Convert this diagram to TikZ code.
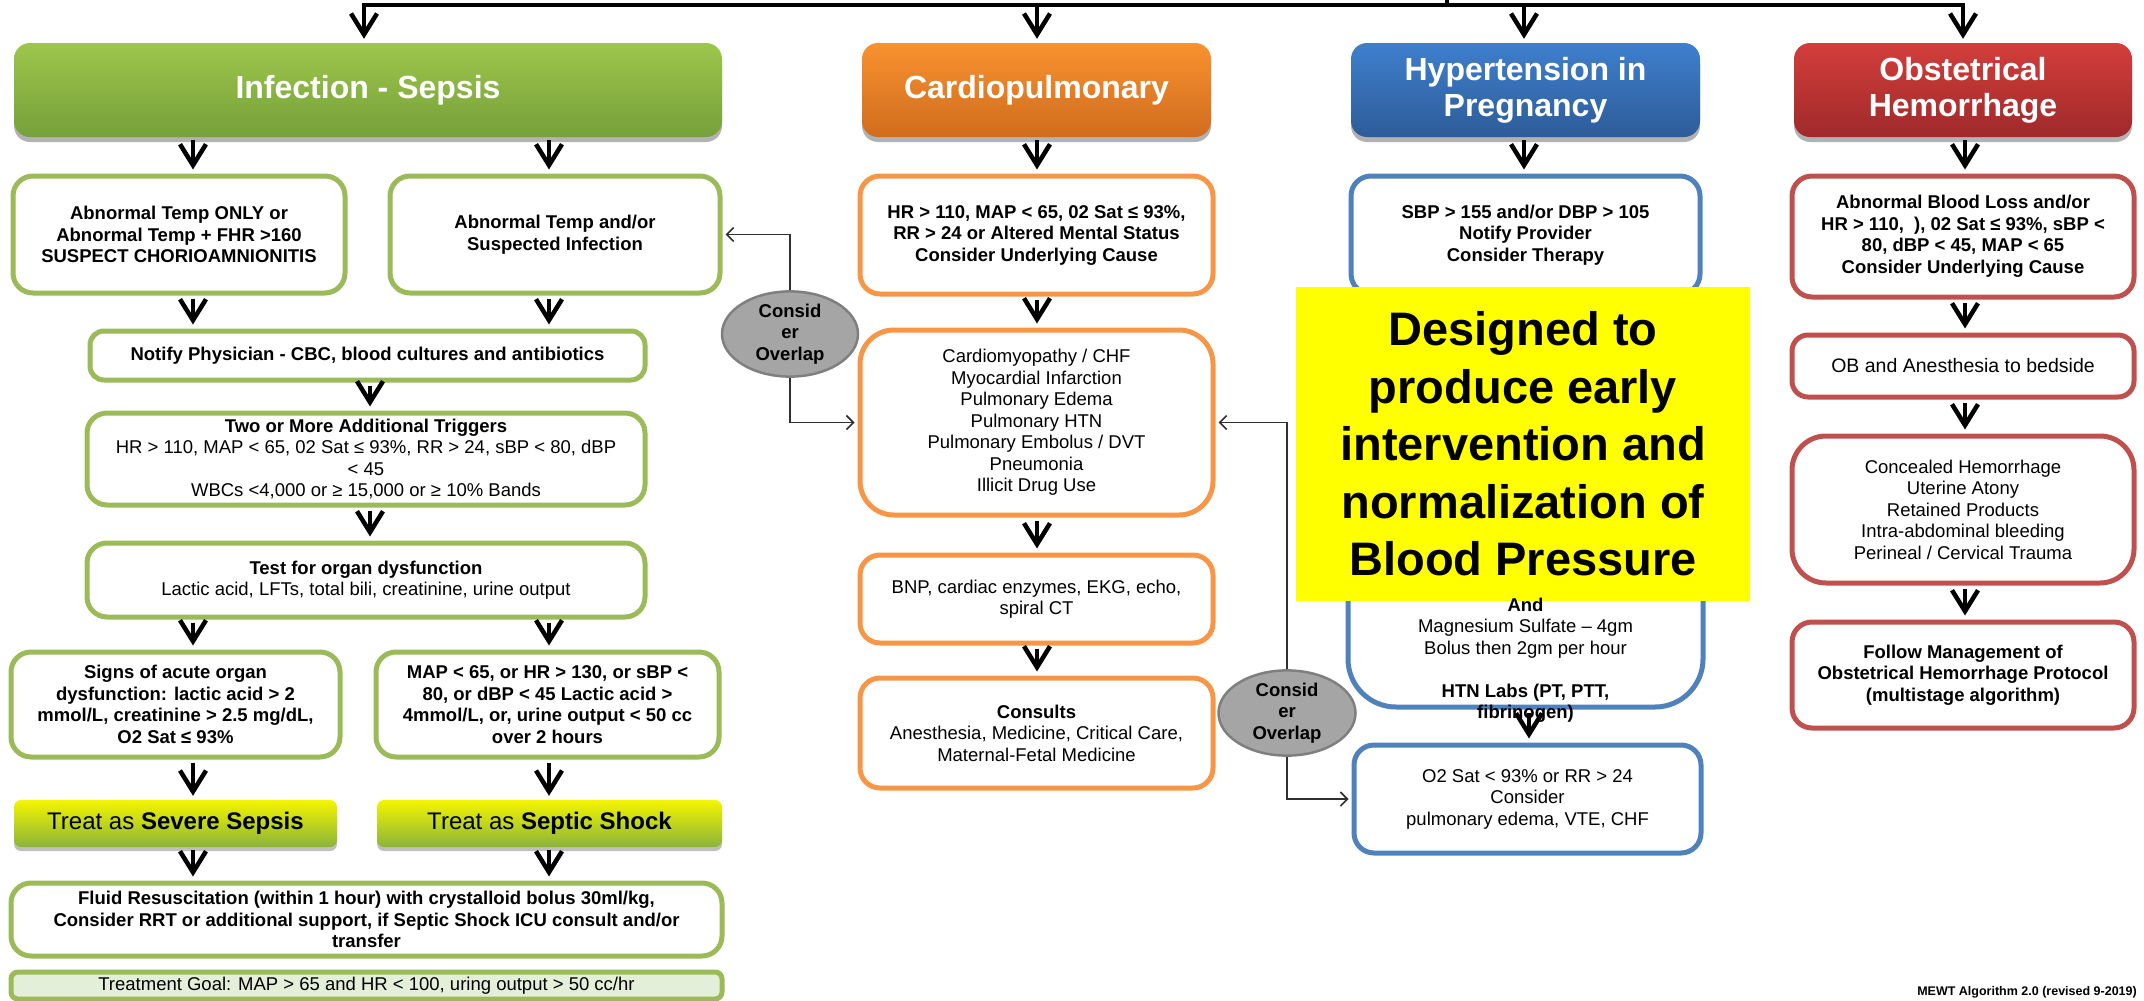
\documentclass[tikz,border=0pt]{standalone}
\usepackage{fontspec}
\setmainfont{Liberation Sans}
\usetikzlibrary{arrows.meta,shadows,shapes.geometric}

\definecolor{grnline}{HTML}{9BBB59}
\definecolor{orgline}{HTML}{F79646}
\definecolor{bluline}{HTML}{4F81BD}
\definecolor{redline}{HTML}{C0504D}
\definecolor{grntop}{HTML}{9DC64B}
\definecolor{grnbot}{HTML}{76A03A}
\definecolor{orgtop}{HTML}{F8922F}
\definecolor{orgbot}{HTML}{D06C1E}
\definecolor{blutop}{HTML}{3F7FCD}
\definecolor{blubot}{HTML}{2D5C99}
\definecolor{redtop}{HTML}{D23E3B}
\definecolor{redbot}{HTML}{A0292A}
\definecolor{treattop}{HTML}{F5F500}
\definecolor{treatbot}{HTML}{8AB43A}
\definecolor{goalfill}{HTML}{E4EFDA}
\definecolor{ovalfill}{HTML}{A5A5A5}
\definecolor{ovalline}{HTML}{7F7F7F}
\definecolor{linkgray}{HTML}{303030}
\definecolor{banner}{HTML}{FFFF00}

\tikzset{
  every node/.style={font=\fontsize{18.5}{21.5}\selectfont, align=center, inner sep=0pt},
  boldtxt/.style={font=\fontsize{18.5}{21.5}\selectfont\bfseries},
  box/.style={draw, line width=5pt, fill=white, rounded corners=20pt},
  gbox/.style={box, draw=grnline},
  obox/.style={box, draw=orgline},
  bbox/.style={box, draw=bluline},
  rbox/.style={box, draw=redline},
  hdr/.style={rounded corners=16pt, text=white,
    font=\fontsize{32}{36}\selectfont\bfseries,
    drop shadow={shadow xshift=0pt, shadow yshift=-5pt, opacity=0.3, fill=black}},
  treat/.style={rounded corners=7pt, top color=treattop, bottom color=treatbot,
    font=\fontsize{24}{28}\selectfont,
    drop shadow={shadow xshift=0pt, shadow yshift=-4pt, opacity=0.25, fill=black}},
  oval/.style={ellipse, draw=ovalline, line width=2.5pt, fill=ovalfill, boldtxt},
  arr/.style={line width=4.5pt, shorten <=3pt, shorten >=4pt,
    -{Straight Barb[length=21pt,width=26pt]}},
  link/.style={line width=1.6pt, draw=linkgray, shorten >=3pt,
    -{Straight Barb[length=7pt,width=14pt]}},
}

\begin{document}
\begin{tikzpicture}[x=1pt, y=-1pt]
\useasboundingbox (0,0) rectangle (2144,1001);

% ---------- column headers ----------
\node[hdr, top color=grntop, bottom color=grnbot, minimum width=708pt, minimum height=94pt]
  (hinf) at (368,90) {Infection - Sepsis};
\node[hdr, top color=orgtop, bottom color=orgbot, minimum width=349pt, minimum height=94pt]
  (hcar) at (1036.5,90) {Cardiopulmonary};
\node[hdr, top color=blutop, bottom color=blubot, minimum width=349pt, minimum height=94pt]
  (hhtn) at (1525.5,90) {Hypertension in\\Pregnancy};
\node[hdr, top color=redtop, bottom color=redbot, minimum width=338pt, minimum height=94pt]
  (hob) at (1963,90) {Obstetrical\\Hemorrhage};

% ---------- infection / sepsis ----------
\node[gbox, boldtxt, minimum width=332pt, minimum height=117pt] (a1) at (179,234.5)
  {Abnormal Temp ONLY or\\Abnormal Temp + FHR >160\\SUSPECT CHORIOAMNIONITIS};
\node[gbox, boldtxt, minimum width=330pt, minimum height=117pt] (a2) at (555,234.5)
  {Abnormal Temp and/or\\Suspected Infection};
\node[gbox, boldtxt, minimum width=555pt, minimum height=49pt, rounded corners=14pt] (notify) at (367.5,355.5)
  {Notify Physician - CBC, blood cultures and antibiotics};
\node[gbox, minimum width=558pt, minimum height=92pt] (trig) at (366,459)
  {\textbf{Two or More Additional Triggers}\\HR > 110, MAP < 65, 02 Sat ≤ 93\%, RR > 24, sBP < 80, dBP\\< 45\\WBCs <4,000 or ≥ 15,000 or ≥ 10\% Bands};
\node[gbox, minimum width=558pt, minimum height=74pt] (test) at (366,580)
  {\textbf{Test for organ dysfunction}\\Lactic acid, LFTs, total bili, creatinine, urine output};
\node[gbox, boldtxt, minimum width=329pt, minimum height=105pt] (signs) at (175.5,704.5)
  {Signs of acute organ\\dysfunction: lactic acid > 2\\mmol/L, creatinine > 2.5 mg/dL,\\O2 Sat ≤ 93\%};
\node[gbox, boldtxt, minimum width=343pt, minimum height=105pt] (shockcrit) at (547.5,704.5)
  {MAP < 65, or HR > 130, or sBP <\\80, or dBP < 45 Lactic acid >\\4mmol/L, or, urine output < 50 cc\\over 2 hours};
\node[treat, minimum width=323pt, minimum height=47pt] (severe) at (175.5,823.5)
  {Treat as \textbf{Severe Sepsis}};
\node[treat, minimum width=345pt, minimum height=47pt] (septic) at (549.5,823.5)
  {Treat as \textbf{Septic Shock}};
\node[gbox, boldtxt, minimum width=711pt, minimum height=73pt] (fluid) at (366.5,919.5)
  {Fluid Resuscitation (within 1 hour) with crystalloid bolus 30ml/kg,\\Consider RRT or additional support, if Septic Shock ICU consult and/or\\transfer};
\node[gbox, fill=goalfill, rounded corners=7pt, minimum width=711pt, minimum height=27pt] (goal) at (366.5,985.5)
  {Treatment Goal: MAP > 65 and HR < 100, uring output > 50 cc/hr};

% ---------- cardiopulmonary ----------
\node[obox, boldtxt, minimum width=353pt, minimum height=118pt] (c1) at (1036.5,235)
  {HR > 110, MAP < 65, 02 Sat ≤ 93\%,\\RR > 24 or Altered Mental Status\\Consider Underlying Cause};
\node[obox, rounded corners=34pt, minimum width=353pt, minimum height=185pt] (c2) at (1036.5,422.5)
  {Cardiomyopathy / CHF\\Myocardial Infarction\\Pulmonary Edema\\Pulmonary HTN\\Pulmonary Embolus / DVT\\Pneumonia\\Illicit Drug Use};
\node[obox, minimum width=353pt, minimum height=88pt] (c3) at (1036.5,599)
  {BNP, cardiac enzymes, EKG, echo,\\spiral CT};
\node[obox, minimum width=353pt, minimum height=110pt] (c4) at (1036.5,733)
  {\textbf{Consults}\\Anesthesia, Medicine, Critical Care,\\Maternal-Fetal Medicine};

% ---------- hypertension ----------
\node[bbox, boldtxt, minimum width=349pt, minimum height=118pt] (h1) at (1525.5,235)
  {SBP > 155 and/or DBP > 105\\Notify Provider\\Consider Therapy};
\node[bbox, rounded corners=48pt, minimum width=355pt, minimum height=377pt] (h2) at (1525.5,518.5) {};
\node[bbox, minimum width=347pt, minimum height=108pt] (o2) at (1527.5,799)
  {O2 Sat < 93\% or RR > 24\\Consider\\pulmonary edema, VTE, CHF};

% ---------- obstetrical hemorrhage ----------
\node[rbox, boldtxt, minimum width=342pt, minimum height=121pt] (ob1) at (1963,236.5)
  {Abnormal Blood Loss and/or\\HR > 110,\ \ ), 02 Sat ≤ 93\%, sBP <\\80, dBP < 45, MAP < 65\\Consider Underlying Cause};
\node[rbox, rounded corners=16pt, minimum width=342pt, minimum height=62pt,
  font=\fontsize{19.5}{22}\selectfont] (ob2) at (1963,366)
  {OB and Anesthesia to bedside};
\node[rbox, rounded corners=34pt, minimum width=342pt, minimum height=147pt] (ob3) at (1963,509.5)
  {Concealed Hemorrhage\\Uterine Atony\\Retained Products\\Intra-abdominal bleeding\\Perineal / Cervical Trauma};
\node[rbox, boldtxt, minimum width=342pt, minimum height=106pt] (ob4) at (1963,675)
  {Follow Management of\\Obstetrical Hemorrhage Protocol\\(multistage algorithm)};

% ---------- overlap ovals ----------
\node[oval, minimum width=136pt, minimum height=78pt] (e1) at (790,334) {Consid\\er\\Overlap};
\node[oval, minimum width=137pt, minimum height=77pt] (e2) at (1287,713) {Consid\\er\\Overlap};

% ---------- column guide coordinates ----------
\coordinate (xl) at (193,0);
\coordinate (xr) at (549,0);
\coordinate (xm) at (370,0);
\coordinate (xc) at (1037,0);
\coordinate (xh) at (1524,0);
\coordinate (xh2) at (1529,0);
\coordinate (xo) at (1965,0);

% ---------- top distribution bar ----------
\coordinate (barL) at (364,5);
\coordinate (barR) at (1963,5);
\coordinate (feed) at (1447,0);
\draw[line width=4pt] (feed) -- (feed |- barL);
\draw[line width=4pt, line cap=rect] (barL) -- (barR);
\draw[arr, shorten <=0pt] (barL) -- (hinf.north -| barL);
\draw[arr, shorten <=0pt] (barL -| xc) -- (hcar.north -| xc);
\draw[arr, shorten <=0pt] (barL -| xh) -- (hhtn.north -| xh);
\draw[arr, shorten <=0pt] (barR) -- (hob.north -| barR);

% ---------- sepsis flow ----------
\draw[arr] (hinf.south -| xl) -- (a1.north -| xl);
\draw[arr] (hinf.south -| xr) -- (a2.north -| xr);
\draw[arr] (a1.south -| xl) -- (notify.north -| xl);
\draw[arr] (a2.south -| xr) -- (notify.north -| xr);
\draw[arr] (notify.south -| xm) -- (trig.north -| xm);
\draw[arr] (trig.south -| xm) -- (test.north -| xm);
\draw[arr] (test.south -| xl) -- (signs.north -| xl);
\draw[arr] (test.south -| xr) -- (shockcrit.north -| xr);
\draw[arr] (signs.south -| xl) -- (severe.north -| xl);
\draw[arr] (shockcrit.south -| xr) -- (septic.north -| xr);
\draw[arr] (severe.south -| xl) -- (fluid.north -| xl);
\draw[arr] (septic.south -| xr) -- (fluid.north -| xr);

% ---------- cardiopulmonary flow ----------
\draw[arr] (hcar.south -| xc) -- (c1.north -| xc);
\draw[arr] (c1.south -| xc) -- (c2.north -| xc);
\draw[arr] (c2.south -| xc) -- (c3.north -| xc);
\draw[arr] (c3.south -| xc) -- (c4.north -| xc);

% ---------- hypertension flow ----------
\draw[arr] (hhtn.south -| xh) -- (h1.north -| xh);

% ---------- hemorrhage flow ----------
\draw[arr] (hob.south -| xo) -- (ob1.north -| xo);
\draw[arr] (ob1.south -| xo) -- (ob2.north -| xo);
\draw[arr] (ob2.south -| xo) -- (ob3.north -| xo);
\draw[arr] (ob3.south -| xo) -- (ob4.north -| xo);

% ---------- overlap links ----------
\draw[link] (e1.north) |- (a2.east);
\draw[link] (e1.south) |- (c2.west);
\draw[link] (e2.north) |- (c2.east);
\draw[link] (e2.south) |- (o2.west);

% ---------- banner over the hypertension column ----------
\node[fill=banner, minimum width=454pt, minimum height=314pt,
  font=\fontsize{47}{57.5}\selectfont\bfseries] (note) at (1523,444)
  {Designed to\\produce early\\intervention and\\normalization of\\Blood Pressure};

% ---------- lower hypertension text and its arrow ----------
\node (h2txt) at (1525.5,660)
  {\textbf{And}\\Magnesium Sulfate – 4gm\\Bolus then 2gm per hour\\[21.5pt]\textbf{HTN Labs (PT, PTT,}\\\textbf{fibrinogen)}};
\draw[arr] (h2.south -| xh2) -- (o2.north -| xh2);

% ---------- footer ----------
\node[anchor=east, font=\fontsize{12.5}{15}\selectfont\bfseries] (footer) at (2137,992)
  {MEWT Algorithm 2.0 (revised 9-2019)};
\end{tikzpicture}
\end{document}
